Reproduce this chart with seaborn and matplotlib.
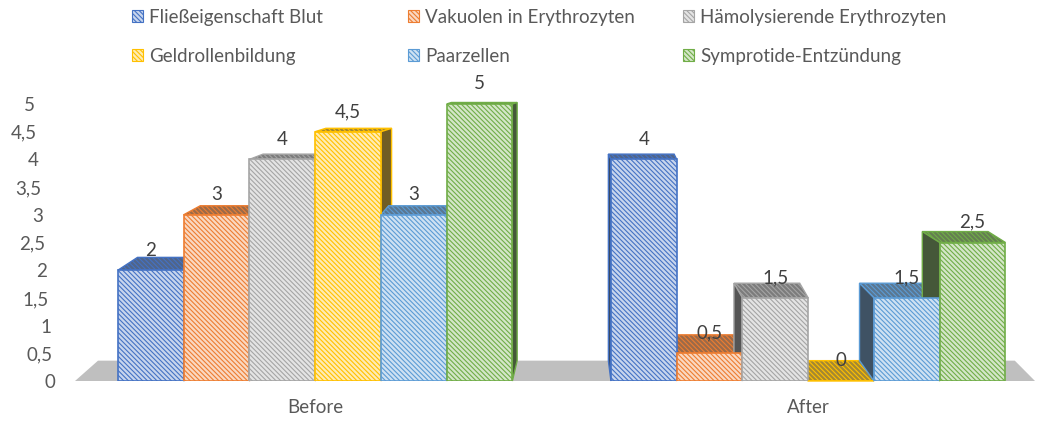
import numpy as np
import pandas as pd
import seaborn as sns
import matplotlib.pyplot as plt
from matplotlib.patches import Polygon, Patch
from matplotlib.colors import to_rgb

# ---- data -------------------------------------------------------------
groups = ["Before", "After"]
series = [
    "Fließeigenschaft Blut",
    "Vakuolen in Erythrozyten",
    "Hämolysierende Erythrozyten",
    "Geldrollenbildung",
    "Paarzellen",
    "Symprotide-Entzündung",
]
before = [2, 3, 4, 4.5, 3, 5]
after = [4, 0.5, 1.5, 0, 1.5, 2.5]
colors = ["#4472C4", "#ED7D31", "#A5A5A5", "#FFC000", "#5B9BD5", "#70AD47"]
yticks = [0, 0.5, 1, 1.5, 2, 2.5, 3, 3.5, 4, 4.5, 5]

df = pd.DataFrame({
    "group": np.repeat(groups, len(series)),
    "series": series * len(groups),
    "value": before + after,
})

# ---- style ------------------------------------------------------------
sns.set_theme(style="white")
plt.rcParams["font.family"] = ["Lato", "DejaVu Sans"]
plt.rcParams["hatch.linewidth"] = 0.8
TEXT = "#595959"
FS = 13.5
HATCH = "\\" * 7


def mix(c, other, t):
    a = np.array(to_rgb(c))
    b = np.array(to_rgb(other))
    return tuple(a * t + b * (1 - t))


fig = plt.figure(figsize=(10.42, 4.21), dpi=100)
ax = fig.add_axes([75 / 1042, 40 / 421, 960 / 1042, 277 / 421])

sns.barplot(
    data=df, x="group", y="value", hue="series",
    order=groups, hue_order=series, palette=colors,
    width=0.8, gap=0, saturation=1, legend=False, ax=ax,
)

ax.set_xlim(-0.487, 1.46)
ax.set_ylim(0, 5)

# simple perspective: depth offset grows toward the bottom and away from
# a vanishing column between the two groups
VANISH_X, KX = 0.55, 0.045


def depth(x, h):
    return (VANISH_X - x) * KX, (5.4 - h) * 0.068


# floor slab
x_l, x_r = ax.get_xlim()
dxl, dy0 = depth(x_l, 0)
dxr, _ = depth(x_r, 0)
ax.add_patch(Polygon([(x_l, 0), (x_r, 0), (x_r + dxr, dy0), (x_l + dxl, dy0)],
                     closed=True, facecolor="#BFBFBF", edgecolor="none",
                     zorder=1, clip_on=False))

color_of = dict(zip(series, colors))
for container, name in zip(ax.containers, series):
    col = color_of[name]
    for bar in container:
        x0 = bar.get_x()
        w = bar.get_width()
        x1 = x0 + w
        h = bar.get_height()
        c = x0 + w / 2
        dx, dy = depth(c, h)
        _, dyb = depth(c, 0)

        bar.set_facecolor(mix(col, "white", 0.3))
        bar.set_edgecolor(col)
        bar.set_hatch(HATCH)
        bar.set_linewidth(1.2)
        bar.set_zorder(3)

        # top face
        ax.add_patch(Polygon([(x0, h), (x1, h), (x1 + dx, h + dy), (x0 + dx, h + dy)],
                             closed=True, facecolor=mix(col, "#5a5a5a", 0.45),
                             edgecolor=col, hatch=HATCH, linewidth=1.0,
                             zorder=2, clip_on=False))
        # visible side face
        xs = x1 if dx > 0 else x0
        ax.add_patch(Polygon([(xs, 0), (xs, h), (xs + dx, h + dy), (xs + dx, dyb)],
                             closed=True, facecolor=mix(col, "#333333", 0.3),
                             edgecolor=col, linewidth=1.0,
                             zorder=2, clip_on=False))
        ax.annotate(f"{h:g}".replace(".", ","), (c, h), xytext=(0, 14.5),
                    textcoords="offset points", ha="center", va="center",
                    fontsize=FS, color="#404040", zorder=5, annotation_clip=False)

# ---- axes -------------------------------------------------------------
sns.despine(ax=ax, left=True, bottom=True)
ax.set_xlabel("")
ax.set_ylabel("")
ax.set_yticks(yticks, labels=[f"{t:g}".replace(".", ",") for t in yticks])
ax.tick_params(axis="both", length=0, labelsize=FS, labelcolor=TEXT)
ax.tick_params(axis="x", pad=13)
ax.tick_params(axis="y", pad=0)
ax.grid(False)

# slanted value axis: labels drift right toward the floor
for lbl, t in zip(ax.get_yticklabels(), yticks):
    edge_px = 55 - (t / 5) * 20
    lbl.set_x((edge_px - 75) / 960)
    lbl.set_horizontalalignment("right")

# ---- legend: three columns, row-major --------------------------------
handles = [Patch(facecolor=mix(c, "white", 0.3), edgecolor=c, hatch=HATCH,
                 linewidth=0.8) for c in colors]
col_x = [132, 408, 683]
for j, xpx in enumerate(col_x):
    idx = [j, j + 3]
    fig.legend([handles[i] for i in idx], [series[i] for i in idx],
               loc="upper left", bbox_to_anchor=(xpx / 1042, 1 - 9 / 421),
               frameon=False, fontsize=FS, labelcolor=TEXT,
               handlelength=0.6, handleheight=0.6, handletextpad=0.3,
               labelspacing=1.15, borderpad=0, borderaxespad=0)

fig.savefig("out.png", dpi=100)
